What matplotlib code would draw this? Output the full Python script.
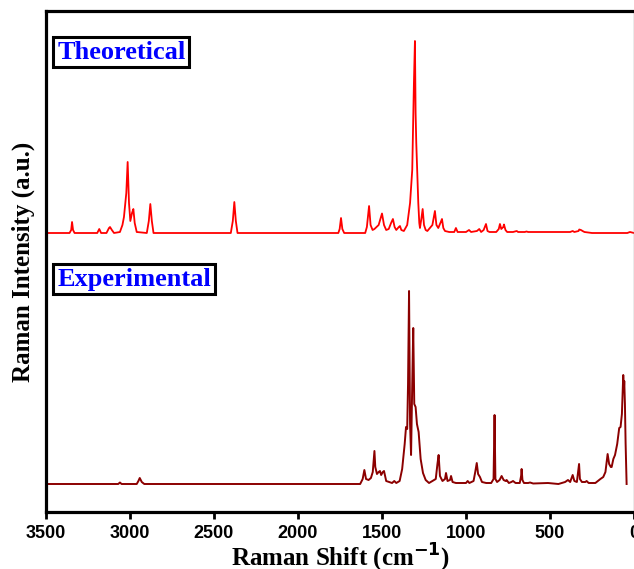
import matplotlib
matplotlib.use("Agg")
import matplotlib.pyplot as plt

# Theoretical spectrum: (Raman shift cm-1, intensity a.u.)
theo_shift = [3500, 3360, 3350, 3345, 3339, 3330, 3195, 3183, 3172, 3140, 3125, 3119, 3108, 3095,
              3060, 3045, 3036, 3022, 3014, 3006, 2998, 2988, 2980, 2972, 2960, 2900, 2888, 2879,
              2870, 2860, 2400, 2388, 2379, 2370, 2360, 1760, 1752, 1744, 1736, 1725, 1600, 1590,
              1577, 1568, 1556, 1545, 1520, 1500, 1488, 1475, 1460, 1446, 1435, 1425, 1415, 1400,
              1393, 1385, 1370, 1350, 1333, 1320, 1310, 1304, 1300, 1296, 1290, 1284, 1278, 1274,
              1265, 1258, 1250, 1240, 1230, 1200, 1185, 1176, 1165, 1150, 1143, 1135, 1125, 1100,
              1070, 1060, 1050, 1000, 982, 970, 935, 921, 910, 895, 881, 872, 860, 820, 805, 798,
              790, 778, 774, 765, 755, 720, 698, 690, 650, 640, 630, 380, 365, 355, 330, 326, 316,
              306, 295, 250, 40, 24, 0]
theo_int = [0, 0, 3, 11, 3, 0, 0, 4, 0, 0, 5, 6, 3, 0,
            1, 8, 16, 40, 71, 30, 12, 20, 24, 10, 1, 0, 12, 29,
            12, 0, 0, 12, 31, 12, 0, 0, 4, 15, 4, 0, 0, 6,
            27, 8, 3, 4, 8, 19.5, 8, 3, 4, 10, 14, 6, 3, 6,
            7, 3, 2, 8, 30, 63, 150, 192, 120, 90, 60, 30, 10, 5,
            15, 24, 8, 3, 2, 8, 22, 8, 5, 11, 14, 5, 2, 1,
            1, 5, 1, 1, 3, 1, 2, 4, 1, 3, 9, 2, 1, 1, 4, 9,
            4, 6, 8.5, 3, 1, 1, 2, 1, 1, 1.5, 1, 1, 2, 1, 2, 3.5, 3,
            2, 1, 0, 0, 1, 0]

# Experimental spectrum
exp_shift = [3500, 3070, 3060, 3050, 2960, 2950, 2942, 2930, 2915, 1630, 1615, 1605, 1595, 1580,
             1566, 1555, 1545, 1540, 1530, 1520, 1512, 1505, 1495, 1488, 1475, 1440, 1427, 1415,
             1395, 1380, 1365, 1357, 1350, 1345, 1339, 1333, 1327, 1320, 1314, 1308, 1300, 1292,
             1282, 1270, 1256, 1240, 1220, 1180, 1170, 1163, 1155, 1140, 1125, 1119, 1110, 1095,
             1089, 1080, 1060, 1000, 990, 980, 955, 945, 936, 928, 917, 905, 880, 850, 836, 830,
             825, 815, 800, 788, 776, 764, 758, 745, 730, 720, 705, 680, 672, 669, 664, 655, 630,
             619, 600, 512, 450, 410, 393, 380, 365, 355, 340, 327, 322, 310, 290, 282, 270, 230,
             200, 183, 170, 157, 148, 138, 133, 123, 113, 100, 88, 80, 72, 64, 60, 58, 54, 50, 44]
exp_int = [0, 0, 1.5, 0, 0, 3, 6, 2, 0, 0, 5, 14, 5, 4,
           6, 12, 33, 17, 10, 12, 13, 9, 12, 13, 3, 1, 3, 1,
           3, 15, 40, 57, 55, 100, 193, 60, 29, 100, 156, 80, 77, 60,
           52, 25, 11, 4, 1, 5, 20, 29, 8, 3, 5, 11, 3, 4,
           8, 2, 1, 1, 3, 1, 3, 12, 21, 10, 7, 2, 1, 1, 5, 69,
           5, 2, 4, 8, 4, 3, 4, 1, 2, 3, 1, 1, 8, 15, 4, 1, 1,
           1.5, 0.5, 1, 0, 2, 4, 2, 9, 3, 2, 20, 5, 2, 2, 3, 1, 1,
           5, 7, 12, 30, 20, 17, 17, 25, 29, 40, 56, 57, 70, 109, 95, 103, 80, 41, 0]

x_ticks = [3500, 3000, 2500, 2000, 1500, 1000, 500, 0]
series_labels = ["Theoretical", "Experimental"]

theo_offset = 279
exp_offset = 28

fig = plt.figure(figsize=(6.34, 5.69), dpi=100)
ax = fig.add_axes([46/634, 1-512/569, 1-46/634, (512-11)/569])

ax.plot(theo_shift, [v + theo_offset for v in theo_int], color="#ff0000", lw=1.3)
ax.plot(exp_shift, [v + exp_offset for v in exp_int], color="#8b0000", lw=1.4)

ax.set_xlim(3500, 0)
ax.set_ylim(0, 501)
ax.set_xticks(x_ticks)
ax.set_xticklabels([str(t) for t in x_ticks], fontfamily="Liberation Sans",
                   fontweight="bold", fontsize=13)
ax.set_yticks([])
ax.tick_params(axis="x", direction="out", length=5, width=2, pad=4)

for s in ["left", "bottom", "top"]:
    ax.spines[s].set_linewidth(2.3)
    ax.spines[s].set_color("black")
ax.spines["right"].set_linewidth(1.0)
ax.spines["right"].set_color("#999999")

ax.set_xlabel("Raman Shift (cm$^{\\mathbf{-1}}$)", fontfamily="Liberation Serif",
              fontweight="bold", fontsize=18, labelpad=0)
ax.set_ylabel("Raman Intensity (a.u.)", fontfamily="Liberation Serif",
              fontweight="bold", fontsize=18, labelpad=8)

box = dict(boxstyle="square,pad=0.14", facecolor="white", edgecolor="black", linewidth=2.2)
ax.text(0.019, 0.918, series_labels[0], transform=ax.transAxes, fontfamily="Liberation Serif",
        fontweight="bold", fontsize=19, color="#0000ff", va="center", ha="left", bbox=box)
ax.text(0.019, 0.465, series_labels[1], transform=ax.transAxes, fontfamily="Liberation Serif",
        fontweight="bold", fontsize=19, color="#0000ff", va="center", ha="left", bbox=box)

fig.savefig("out.png", dpi=100)
